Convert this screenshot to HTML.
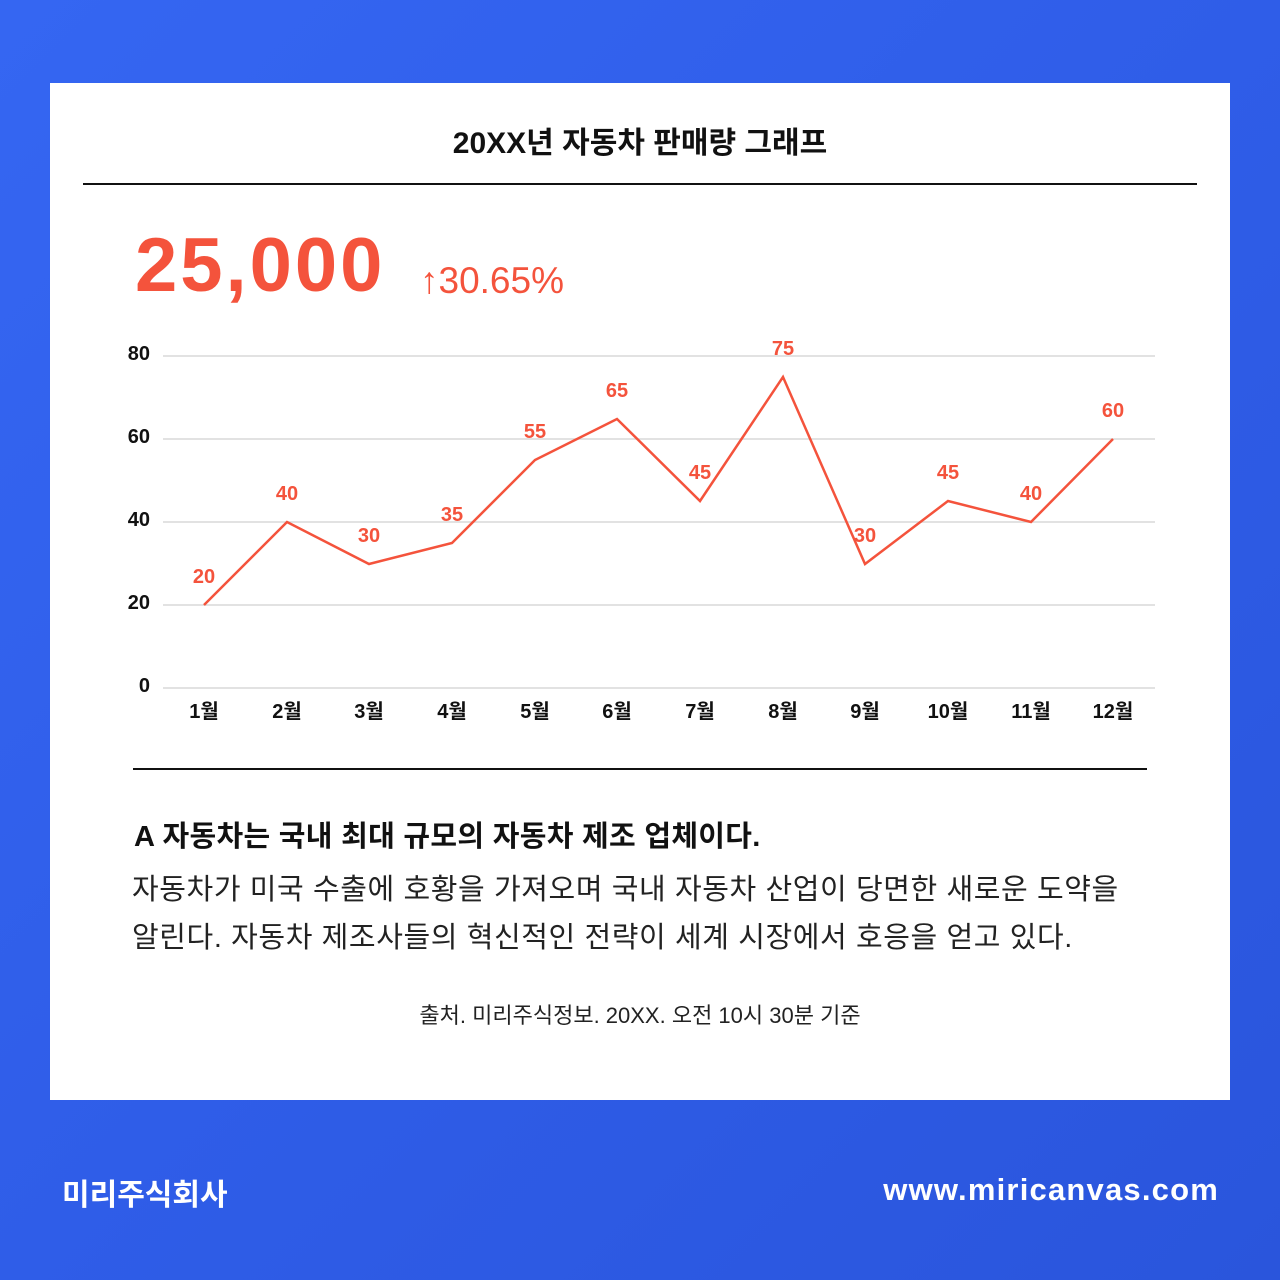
<!DOCTYPE html>
<html><head><meta charset="utf-8"><style>
body{margin:0;width:1280px;height:1280px;overflow:hidden;background:linear-gradient(135deg,#3566f2 0%,#2f5de8 50%,#2a55dc 100%);font-family:"Liberation Sans","Noto Sans CJK KR",sans-serif;position:relative}
.card{position:absolute;left:50px;top:83px;width:1180px;height:1017px;background:#fff}
.t{position:absolute;white-space:nowrap}
</style></head><body>
<div class="card"></div>
<div class="t" style="left:0;width:1280px;text-align:center;top:118px;font-size:30px;font-weight:bold;color:#111">20XX년 자동차 판매량 그래프</div>
<div style="position:absolute;left:83px;top:183px;width:1114px;height:2px;background:#111"></div>
<div class="t" style="left:135px;top:222px;font-size:76px;font-weight:bold;color:#f4533c;letter-spacing:3px">25,000</div>
<div class="t" style="left:420px;top:260px;font-size:37px;color:#f4533c">↑30.65%</div>
<svg style="position:absolute;left:0;top:0" width="1280" height="1280" font-family="Liberation Sans, Noto Sans CJK KR, sans-serif">
<g stroke="#d8d8d8" stroke-width="1.5">
<line x1="163" y1="356" x2="1155" y2="356"/><line x1="163" y1="439" x2="1155" y2="439"/><line x1="163" y1="522" x2="1155" y2="522"/><line x1="163" y1="605" x2="1155" y2="605"/><line x1="163" y1="688" x2="1155" y2="688"/>
</g>
<g font-size="20" font-weight="bold" fill="#111" text-anchor="end">
<text x="150" y="360">80</text><text x="150" y="443">60</text><text x="150" y="526">40</text><text x="150" y="609">20</text><text x="150" y="692">0</text>
</g>
<polyline fill="none" stroke="#f4533c" stroke-width="2.5" points="204,605 287,522 369,564 452,543 535,460 617,419 700,501 783,377 865,564 948,501 1031,522 1113,439"/>
<g font-size="20" font-weight="bold" fill="#f4533c" text-anchor="middle">
<text x="204" y="583">20</text><text x="287" y="500">40</text><text x="369" y="542">30</text><text x="452" y="521">35</text><text x="535" y="438">55</text><text x="617" y="397">65</text><text x="700" y="479">45</text><text x="783" y="355">75</text><text x="865" y="542">30</text><text x="948" y="479">45</text><text x="1031" y="500">40</text><text x="1113" y="417">60</text>
</g>
<g font-size="20" font-weight="bold" fill="#111" text-anchor="middle">
<text x="204" y="718">1월</text><text x="287" y="718">2월</text><text x="369" y="718">3월</text><text x="452" y="718">4월</text><text x="535" y="718">5월</text><text x="617" y="718">6월</text><text x="700" y="718">7월</text><text x="783" y="718">8월</text><text x="865" y="718">9월</text><text x="948" y="718">10월</text><text x="1031" y="718">11월</text><text x="1113" y="718">12월</text>
</g>
</svg>
<div style="position:absolute;left:133px;top:768px;width:1014px;height:2px;background:#111"></div>
<div class="t" style="left:134px;top:813px;font-size:29px;font-weight:bold;color:#111;letter-spacing:0.3px">A 자동차는 국내 최대 규모의 자동차 제조 업체이다.</div>
<div class="t" style="left:132px;top:866px;font-size:29px;line-height:48px;color:#222;letter-spacing:0.6px">자동차가 미국 수출에 호황을 가져오며 국내 자동차 산업이 당면한 새로운 도약을<br>알린다. 자동차 제조사들의 혁신적인 전략이 세계 시장에서 호응을 얻고 있다.</div>
<div class="t" style="left:0;width:1280px;text-align:center;top:998px;font-size:22px;color:#222">출처. 미리주식정보. 20XX. 오전 10시 30분 기준</div>
<div class="t" style="left:62px;top:1170px;font-size:30px;font-weight:bold;color:#fff">미리주식회사</div>
<div class="t" style="right:61px;top:1172px;font-size:31px;font-weight:bold;color:#fff;letter-spacing:1.2px">www.miricanvas.com</div>
</body></html>
